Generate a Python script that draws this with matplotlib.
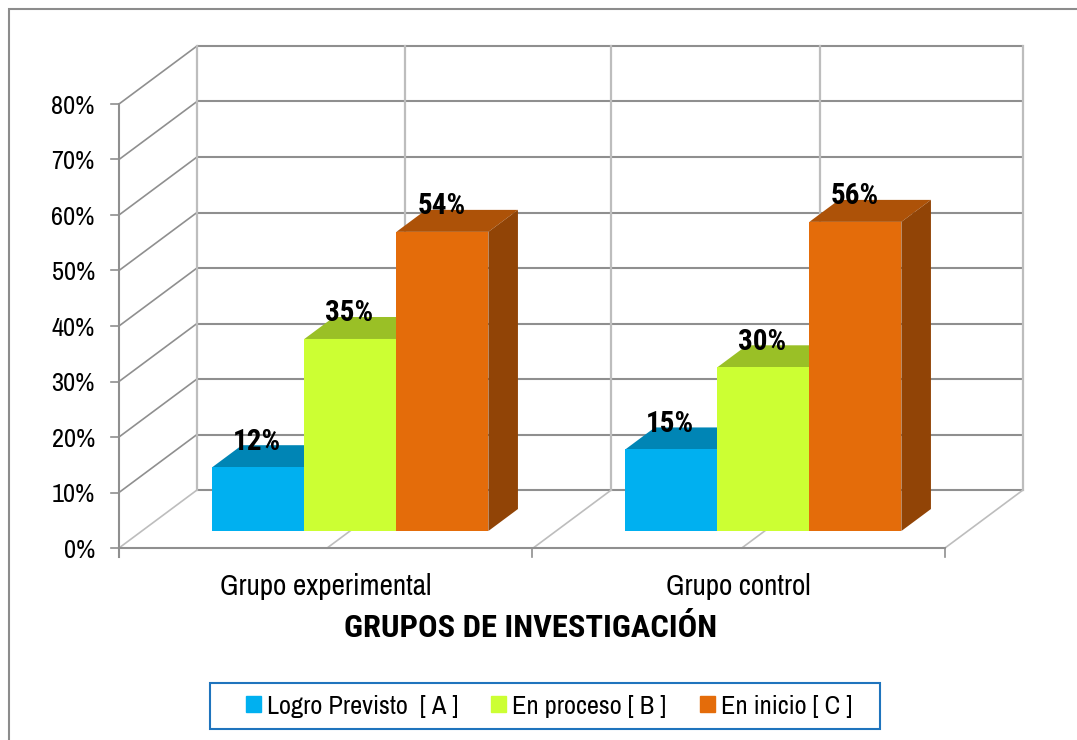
import matplotlib
matplotlib.use('Agg')
import matplotlib.pyplot as plt
import matplotlib.patches as patches

categories = ['Grupo experimental', 'Grupo control']
series_names = ['Logro Previsto  [ A ]', 'En proceso [ B ]', 'En inicio [ C ]']
logro = [11.5, 14.7]
proceso = [34.6, 29.5]
inicio = [53.9, 55.7]
yticks = [0, 10, 20, 30, 40, 50, 60, 70, 80]

front_colors = ['#00b0f0', '#ccff33', '#e46c0a']
top_colors = ['#0085b5', '#9ac026', '#ad5208']
side_colors = ['#006f98', '#80a020', '#914406']

W, H = 1077, 740

plt.rcParams['font.family'] = ['Archivo Narrow', 'Liberation Sans', 'DejaVu Sans']
BOLD = ['Roboto Condensed', 'Liberation Sans', 'DejaVu Sans']

fig = plt.figure(figsize=(W / 100, H / 100), dpi=100, facecolor='white')

# frame of the picture
fig.add_artist(patches.Rectangle((9 / W, -0.01), (W + 20) / W, 1 - 9 / H + 0.01, transform=fig.transFigure,
                                 facecolor='none', edgecolor='#8c8c8c', linewidth=1.5, zorder=-1))

# axes = front plane of the 3d box
ax = fig.add_axes([119 / W, 1 - 548 / H, 826 / W, 444 / H])
ax.set_xlim(0, 2)
ax.set_ylim(0, 80)
ax.axis('off')

# one unit of depth in data units
DX = 78 / 413
DY = 58 / 5.55
BAR_D0, BAR_D1 = 0.293, 0.672
BAR_W = 0.2228

GRID = '#8f8f8f'
WALL = '#bdbdbd'

for v in yticks:
    ax.plot([0 + DX, 2 + DX], [v + DY, v + DY], color=GRID, lw=1.5, clip_on=False, zorder=1, solid_capstyle='butt')
    if v > 0:
        ax.plot([0, DX], [v, v + DY], color=GRID, lw=1.2, clip_on=False, zorder=1)
    ax.plot([-8 / 413, 0], [v, v], color=GRID, lw=1.2, clip_on=False, zorder=2)

for x in [0, 0.504, 1.003, 1.508, 2]:
    ax.plot([x + DX, x + DX], [DY, 80 + DY], color=WALL, lw=1.6, clip_on=False, zorder=1)
    ax.plot([x, x + DX], [0, DY], color=WALL, lw=1.2, clip_on=False, zorder=1)

ax.plot([0, 0], [-1.7, 80], color=GRID, lw=1.5, clip_on=False, zorder=2)
ax.plot([0, 2], [0, 0], color=GRID, lw=1.5, clip_on=False, zorder=2)
for x in [1, 2]:
    ax.plot([x, x], [-1.7, 0], color=GRID, lw=1.2, clip_on=False, zorder=2)

for v in yticks:
    ax.text(-24 / 413, v - 0.4, '%d%%' % v, ha='right', va='center', fontsize=19, color='black')

series = [logro, proceso, inicio]
for c in range(len(categories)):
    x0 = c + 0.5 - 1.5 * BAR_W + BAR_D0 * DX + 2 / 413
    for s in range(3):
        h = series[s][c]
        left = x0 + s * BAR_W
        right = left + BAR_W
        base = BAR_D0 * DY
        d = (BAR_D1 - BAR_D0)
        z = 5 + s
        ax.bar(left, h, BAR_W, bottom=base, align='edge', color=front_colors[s], clip_on=False, zorder=z + 0.2)
        ax.fill([left, right, right + d * DX, left + d * DX], [base + h, base + h, base + h + d * DY, base + h + d * DY],
                color=top_colors[s], lw=0, clip_on=False, zorder=z)
        ax.fill([right, right + d * DX, right + d * DX, right], [base, base + d * DY, base + h + d * DY, base + h],
                color=side_colors[s], lw=0, clip_on=False, zorder=z)
        ax.text(left + BAR_W / 2 - 1 / 413, base + h + 4.6, '%d%%' % round(h), ha='center', va='center',
                fontsize=21, fontweight='bold', family=BOLD, color='black', clip_on=False, zorder=20)

for c, name in enumerate(categories):
    ax.text(c + 0.5, -6.9, name, ha='center', va='center', fontsize=21, color='black')

fig.text(531 / W, 1 - 628 / H, 'GRUPOS DE INVESTIGACIÓN', ha='center', va='center', fontsize=23.4,
         fontweight='bold', family=BOLD, color='black')

# legend box drawn apart, its padding is not even left and right
fig.add_artist(patches.Rectangle((210 / W, 1 - 729 / H), 670 / W, 46 / H, transform=fig.transFigure,
                                 facecolor='white', edgecolor='#1f74bd', linewidth=1.5, zorder=3))
handles = [patches.Patch(color=col) for col in front_colors]
leg = fig.legend(handles, series_names, loc='center', bbox_to_anchor=(549 / W, 1 - 706 / H), ncol=3, frameon=False,
                 fontsize=19, handlelength=0.57, handleheight=0.57, handletextpad=0.23, columnspacing=1.25)
leg.set_zorder(4)

fig.savefig('out.png', dpi=100, facecolor='white')
